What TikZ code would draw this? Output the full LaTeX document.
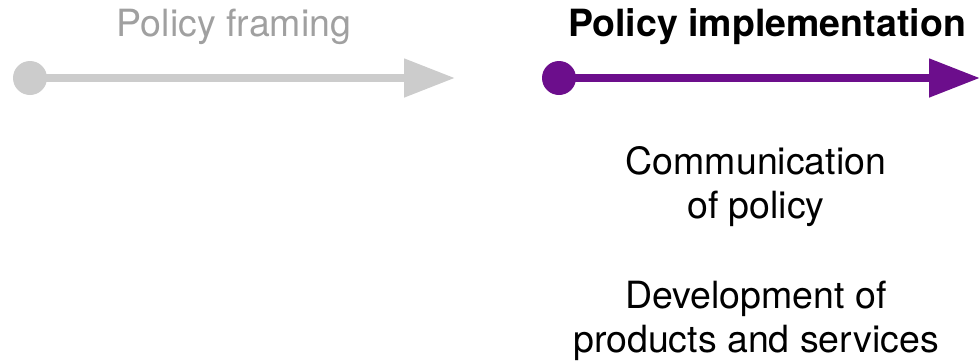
\documentclass[tikz,border=0pt]{standalone}
\usepackage{fontspec}
\setmainfont{TeX Gyre Heros}
\usetikzlibrary{arrows.meta,positioning}
\definecolor{framegray}{RGB}{204,204,204}
\definecolor{labelgray}{RGB}{160,160,160}
\definecolor{implpurple}{RGB}{108,14,140}
\tikzstyle{phase} = [line width=8pt,-{Triangle[length=51pt,width=37pt]}]
\tikzstyle{dot} = [circle, minimum size=34pt, inner sep=0pt]
\tikzstyle{title} = [anchor=base, inner sep=0pt, font=\fontsize{37.5}{44}\selectfont]
\tikzstyle{task} = [anchor=north, inner sep=0pt, align=center, font=\fontsize{37.5}{44}\selectfont]

\begin{document}
\begin{tikzpicture}[x=1pt, y=-1pt]
            \useasboundingbox (0,0) rectangle (980,362);
            % policy framing
            \node[title, text=labelgray] (frameT) at (234,36) {Policy framing};
            \node[dot, fill=framegray] (frame0) at (30,78) {};
            \coordinate (frame1) at (455,78);
            \draw[phase, framegray] (frame0.center) -- (frame1);

            % policy implementation
            \node[title, font=\fontsize{37.5}{44}\selectfont\bfseries] (implT) at (767,36) {Policy implementation};
            \node[dot, fill=implpurple] (impl0) at (559,78) {};
            \coordinate (impl1) at (980,78);
            \draw[phase, implpurple] (impl0.center) -- (impl1);

            \node[task] (comm) at (756,146) {Communication\\of policy};
            \node[task] (dev) at (756,281) {Development of\\products and services};
        \end{tikzpicture}
\end{document}
